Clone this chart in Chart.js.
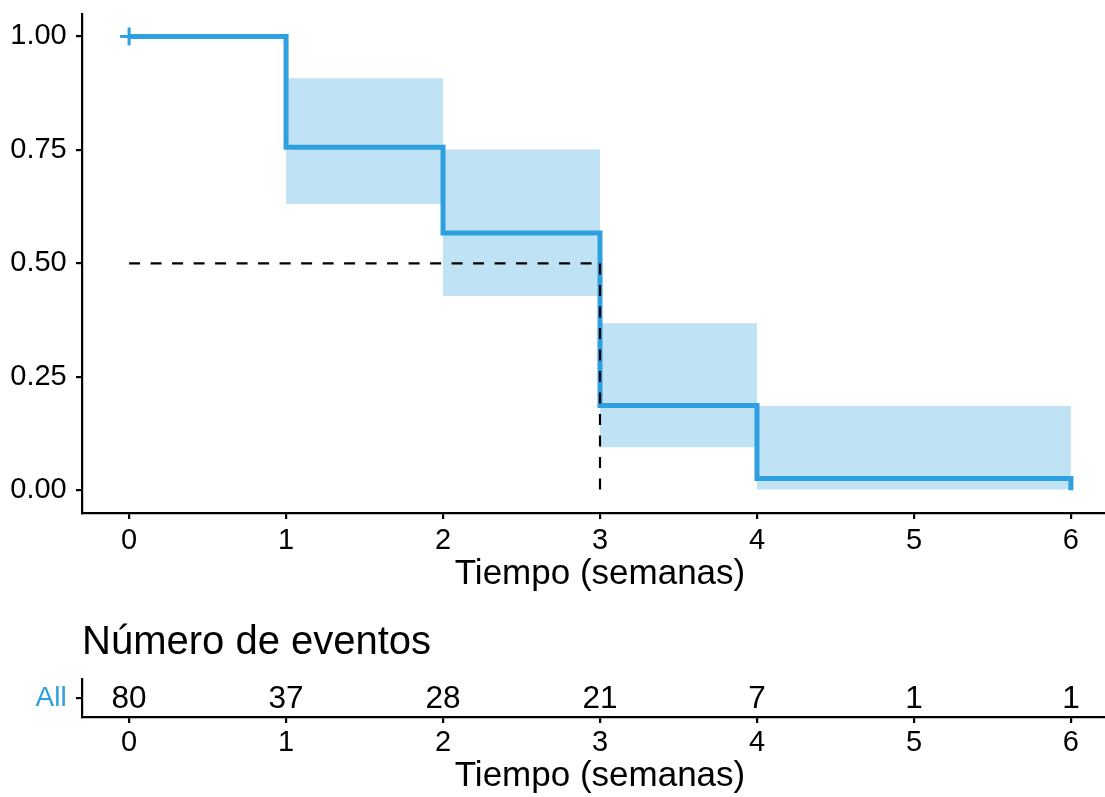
<!DOCTYPE html>
<html>
<head>
<meta charset="utf-8">
<script src="https://cdn.jsdelivr.net/npm/chart.js@4.4.1/dist/chart.umd.min.js"></script>
<style>
  html, body { margin: 0; padding: 0; background: #ffffff; overflow: hidden; }
  #wrap { position: relative; width: 1105px; height: 797px; overflow: hidden; background: #ffffff; }
  /* panels run 13px past the right edge so the time range ends at 6.3 */
  #surv { position: absolute; left: 0; top: 0; }
  #risk { position: absolute; left: 0; top: 600px; }
</style>
</head>
<body>
<div id="wrap">
  <canvas id="surv" width="1118" height="600"></canvas>
  <canvas id="risk" width="1118" height="197"></canvas>
</div>
<script>
// Kaplan–Meier estimate: step times and the survival level after each step
const stepTimes = [0, 1, 2, 3, 4, 6];
const survival  = [1.0, 0.756, 0.567, 0.187, 0.026, 0.0];

// 95% confidence band, one level per interval starting at these times
const ciTimes = [1, 2, 3, 4, 6];
const ciUpper = [0.908, 0.751, 0.368, 0.186, 0.186];
const ciLower = [0.631, 0.428, 0.095, 0.002, 0.002];

// censored observations
const censorTimes = [0];
const censorSurv  = [1.0];

// median survival reference
const medianSurv = 0.5;
const medianTime = 3;

// risk table
const riskTimes  = [0, 1, 2, 3, 4, 5, 6];
const riskCounts = [80, 37, 28, 21, 7, 1, 1];
const riskGroup  = 'All';

// axis ticks
const timeTicks      = [0, 1, 2, 3, 4, 5, 6];
const survTicks      = [0, 0.25, 0.5, 0.75, 1];
const survTickLabels = ['0.00', '0.25', '0.50', '0.75', '1.00'];

const BLUE = '#2E9FDF';
const BAND = 'rgba(46, 159, 223, 0.30)';
const FONT = '"Liberation Sans", Arial, Helvetica, sans-serif';
const AXIS_W = 2.2;
const TICK_FONT = 29;
const MEDIAN_DASH = [11, 10.5];

function timeAxis(tickPad, titlePadBottom, height) {
  return {
    type: 'linear',
    min: -0.3,
    max: 6.3,
    afterBuildTicks: s => { s.ticks = timeTicks.map(v => ({ value: v })); },
    afterFit: s => { s.height = height; },
    ticks: {
      color: '#000',
      font: { family: FONT, size: TICK_FONT, lineHeight: 1.2 },
      padding: tickPad,
      maxRotation: 0,
      autoSkip: false,
      callback: v => String(v)
    },
    grid: { display: true, drawOnChartArea: false, drawTicks: true, tickLength: 6, color: '#000', lineWidth: AXIS_W },
    border: { display: true, color: '#000', width: AXIS_W },
    title: {
      display: true,
      text: 'Tiempo (semanas)',
      color: '#000',
      font: { family: FONT, size: 35, lineHeight: 1.2 },
      padding: { top: 0, bottom: titlePadBottom }
    }
  };
}

function leftAxis(extra) {
  return Object.assign({
    type: 'linear',
    afterFit: s => { s.width = 82; },
    grid: { display: true, drawOnChartArea: false, drawTicks: true, tickLength: 6, color: '#000', lineWidth: AXIS_W },
    border: { display: true, color: '#000', width: AXIS_W }
  }, extra);
}

const common = {
  responsive: false,
  maintainAspectRatio: false,
  devicePixelRatio: 1,
  animation: false,
  events: []
};

// ---- survival curve ----
new Chart(document.getElementById('surv'), {
  type: 'line',
  data: {
    datasets: [
      {
        label: 'censor',
        data: censorTimes.map((t, i) => ({ x: t, y: censorSurv[i] })),
        showLine: false,
        pointStyle: 'cross',
        pointRadius: 9,
        pointHoverRadius: 9,
        pointBorderWidth: 3,
        pointBorderColor: BLUE,
        pointBackgroundColor: BLUE,
        order: 0
      },
      {
        label: 'median-h',
        data: [{ x: 0, y: medianSurv }, { x: medianTime, y: medianSurv }],
        borderColor: '#000',
        borderWidth: 2.2,
        borderDash: MEDIAN_DASH,
        pointRadius: 0,
        fill: false,
        order: 1
      },
      {
        label: 'median-v',
        data: [{ x: medianTime, y: medianSurv }, { x: medianTime, y: 0 }],
        borderColor: '#000',
        borderWidth: 2.2,
        borderDash: MEDIAN_DASH,
        pointRadius: 0,
        fill: false,
        order: 1
      },
      {
        label: 'Survival',
        data: stepTimes.map((t, i) => ({ x: t, y: survival[i] })),
        stepped: 'before',
        borderColor: BLUE,
        borderWidth: 5,
        borderJoinStyle: 'miter',
        pointRadius: 0,
        fill: false,
        order: 2
      },
      {
        label: 'upper',
        data: ciTimes.map((t, i) => ({ x: t, y: ciUpper[i] })),
        stepped: 'before',
        borderWidth: 0,
        borderColor: 'rgba(0,0,0,0)',
        pointRadius: 0,
        fill: false,
        order: 3
      },
      {
        label: 'lower',
        data: ciTimes.map((t, i) => ({ x: t, y: ciLower[i] })),
        stepped: 'before',
        borderWidth: 0,
        borderColor: 'rgba(0,0,0,0)',
        backgroundColor: BAND,
        pointRadius: 0,
        fill: '-1',
        order: 3
      }
    ]
  },
  options: Object.assign({}, common, {
    layout: { autoPadding: false, padding: { top: 13.8, right: 0, left: 0, bottom: 0 } },
    plugins: { legend: { display: false }, tooltip: { enabled: false } },
    scales: {
      x: timeAxis(4.1, 4.5, 87),
      y: leftAxis({
        min: -0.05,
        max: 1.05,
        afterBuildTicks: s => { s.ticks = survTicks.map(v => ({ value: v })); },
        ticks: {
          color: '#000',
          font: { family: FONT, size: TICK_FONT, lineHeight: 0.3 },
          padding: 9.3,
          callback: (v, i) => survTickLabels[i]
        }
      })
    }
  })
});

// ---- number-at-risk table ----
const riskText = {
  id: 'riskText',
  afterDatasetsDraw(chart) {
    const meta = chart.getDatasetMeta(0);
    const ctx = chart.ctx;
    ctx.save();
    ctx.font = '31.5px ' + FONT;
    ctx.fillStyle = '#000';
    ctx.textAlign = 'center';
    ctx.textBaseline = 'middle';
    meta.data.forEach((el, i) => ctx.fillText(String(riskCounts[i]), el.x, el.y + 1));
    ctx.restore();
  }
};

new Chart(document.getElementById('risk'), {
  type: 'scatter',
  data: {
    datasets: [{
      label: riskGroup,
      data: riskTimes.map(t => ({ x: t, y: 1 })),
      pointRadius: 0,
      pointHoverRadius: 0,
      showLine: false
    }]
  },
  plugins: [riskText],
  options: Object.assign({}, common, {
    layout: { autoPadding: false, padding: { top: 0, right: 0, left: 0, bottom: 0 } },
    plugins: {
      legend: { display: false },
      tooltip: { enabled: false },
      title: {
        display: true,
        text: 'Número de eventos',
        align: 'start',
        fullSize: false,
        color: '#000',
        font: { family: FONT, size: 40, weight: 'normal', lineHeight: 1.2 },
        padding: { top: 18.5, bottom: 12.8 }
      }
    },
    scales: {
      x: timeAxis(2.9, 0, 80),
      y: leftAxis({
        min: 0,
        max: 2,
        afterBuildTicks: s => { s.ticks = [{ value: 1 }]; },
        ticks: {
          color: BLUE,
          font: { family: FONT, size: 28, lineHeight: 0.3 },
          padding: 9.3,
          callback: () => riskGroup
        }
      })
    }
  })
});
</script>
</body>
</html>
